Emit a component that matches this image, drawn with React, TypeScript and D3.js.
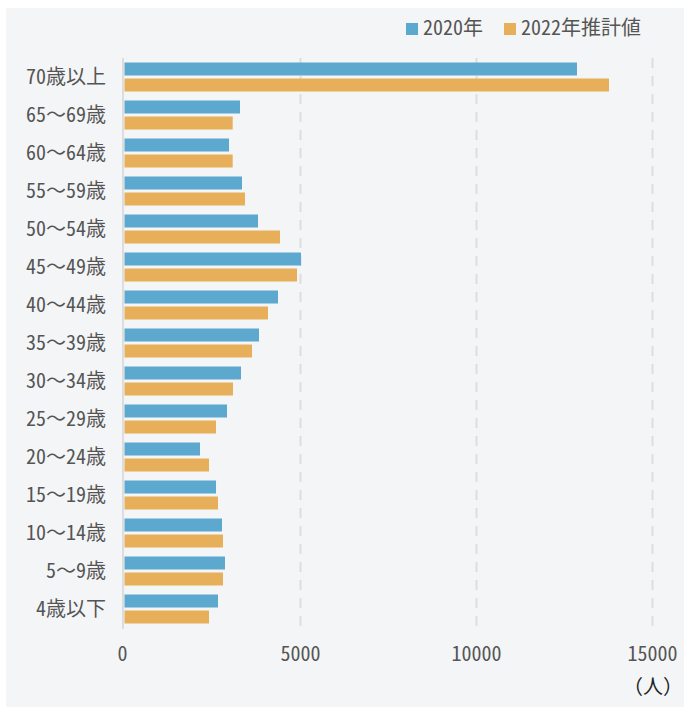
import React from "react";
import * as d3 from "d3";

// age groups, top to bottom
const ageGroups = [
  "70歳以上",
  "65～69歳",
  "60～64歳",
  "55～59歳",
  "50～54歳",
  "45～49歳",
  "40～44歳",
  "35～39歳",
  "30～34歳",
  "25～29歳",
  "20～24歳",
  "15～19歳",
  "10～14歳",
  "5～9歳",
  "4歳以下",
];
const values2020 = [12855, 3281, 2969, 3338, 3793, 5014, 4361, 3821, 3310, 2912, 2145, 2600, 2770, 2855, 2656];
const values2022 = [13764, 3074, 3074, 3423, 4418, 4901, 4077, 3622, 3082, 2600, 2401, 2656, 2798, 2798, 2401];
const seriesNames = ["2020年", "2022年推計値"];
const seriesColors = ["#5ca8cf", "#e8af5b"];
const xTicks = [0, 5000, 10000, 15000];
const unitLabel = "（人）";

const W = 684;
const H = 707;
const font =
  "'Noto Sans Mono CJK JP', 'Noto Sans Mono CJK SC', 'Noto Sans Mono CJK KR', 'Noto Sans CJK JP', monospace";

export default function App() {
  const x = d3.scaleLinear().domain([0, 15000]).range([124.5, 652.5]);
  const y = d3.scaleBand<string>().domain(ageGroups).range([58, 628]);
  const inner = d3
    .scaleBand<number>()
    .domain([0, 1])
    .range([4.5, 33.5])
    .paddingInner(0.1875);
  const series = [values2020, values2022];

  return (
    <svg
      width={W}
      height={H}
      style={{ position: "absolute", left: 0, top: 0, fontFamily: font }}
    >
      <rect x={6} y={8} width={W - 6} height={H - 8} fill="#f4f5f7" />

      {/* legend */}
      {seriesNames.map((name, i) => {
        const lx = i === 0 ? 406 : 504;
        return (
          <g key={name}>
            <rect x={lx} y={23} width={12} height={12} fill={seriesColors[i]} />
            <text x={lx + 17} y={35} fontSize={20} fill="#555">
              {name}
            </text>
          </g>
        );
      })}

      {/* grid */}
      {xTicks.slice(1).map((t) => (
        <line
          key={t}
          x1={x(t)}
          x2={x(t)}
          y1={58}
          y2={629}
          stroke="#dddddd"
          strokeWidth={2}
          strokeDasharray="10 8"
        />
      ))}
      <line x1={123} x2={123} y1={58} y2={629} stroke="#dddddd" strokeWidth={2} />

      {/* bars */}
      {ageGroups.map((g, gi) => (
        <g key={g} transform={`translate(0,${y(g)})`}>
          {series.map((vals, si) => (
            <rect
              key={si}
              x={x(0)}
              y={inner(si)}
              width={x(vals[gi]) - x(0)}
              height={inner.bandwidth()}
              fill={seriesColors[si]}
            />
          ))}
          <text
            x={106}
            y={y.bandwidth() / 2}
            dy="0.35em"
            textAnchor="end"
            fontSize={20}
            fill="#555"
          >
            {g}
          </text>
        </g>
      ))}

      {/* x tick labels */}
      {xTicks.map((t) => (
        <text key={t} x={x(t) - (t === 0 ? 2 : 0)} y={661} textAnchor="middle" fontSize={20} fill="#555">
          {t}
        </text>
      ))}
      <text x={683} y={694} textAnchor="end" fontSize={20} fill="#222">
        {unitLabel}
      </text>
    </svg>
  );
}
